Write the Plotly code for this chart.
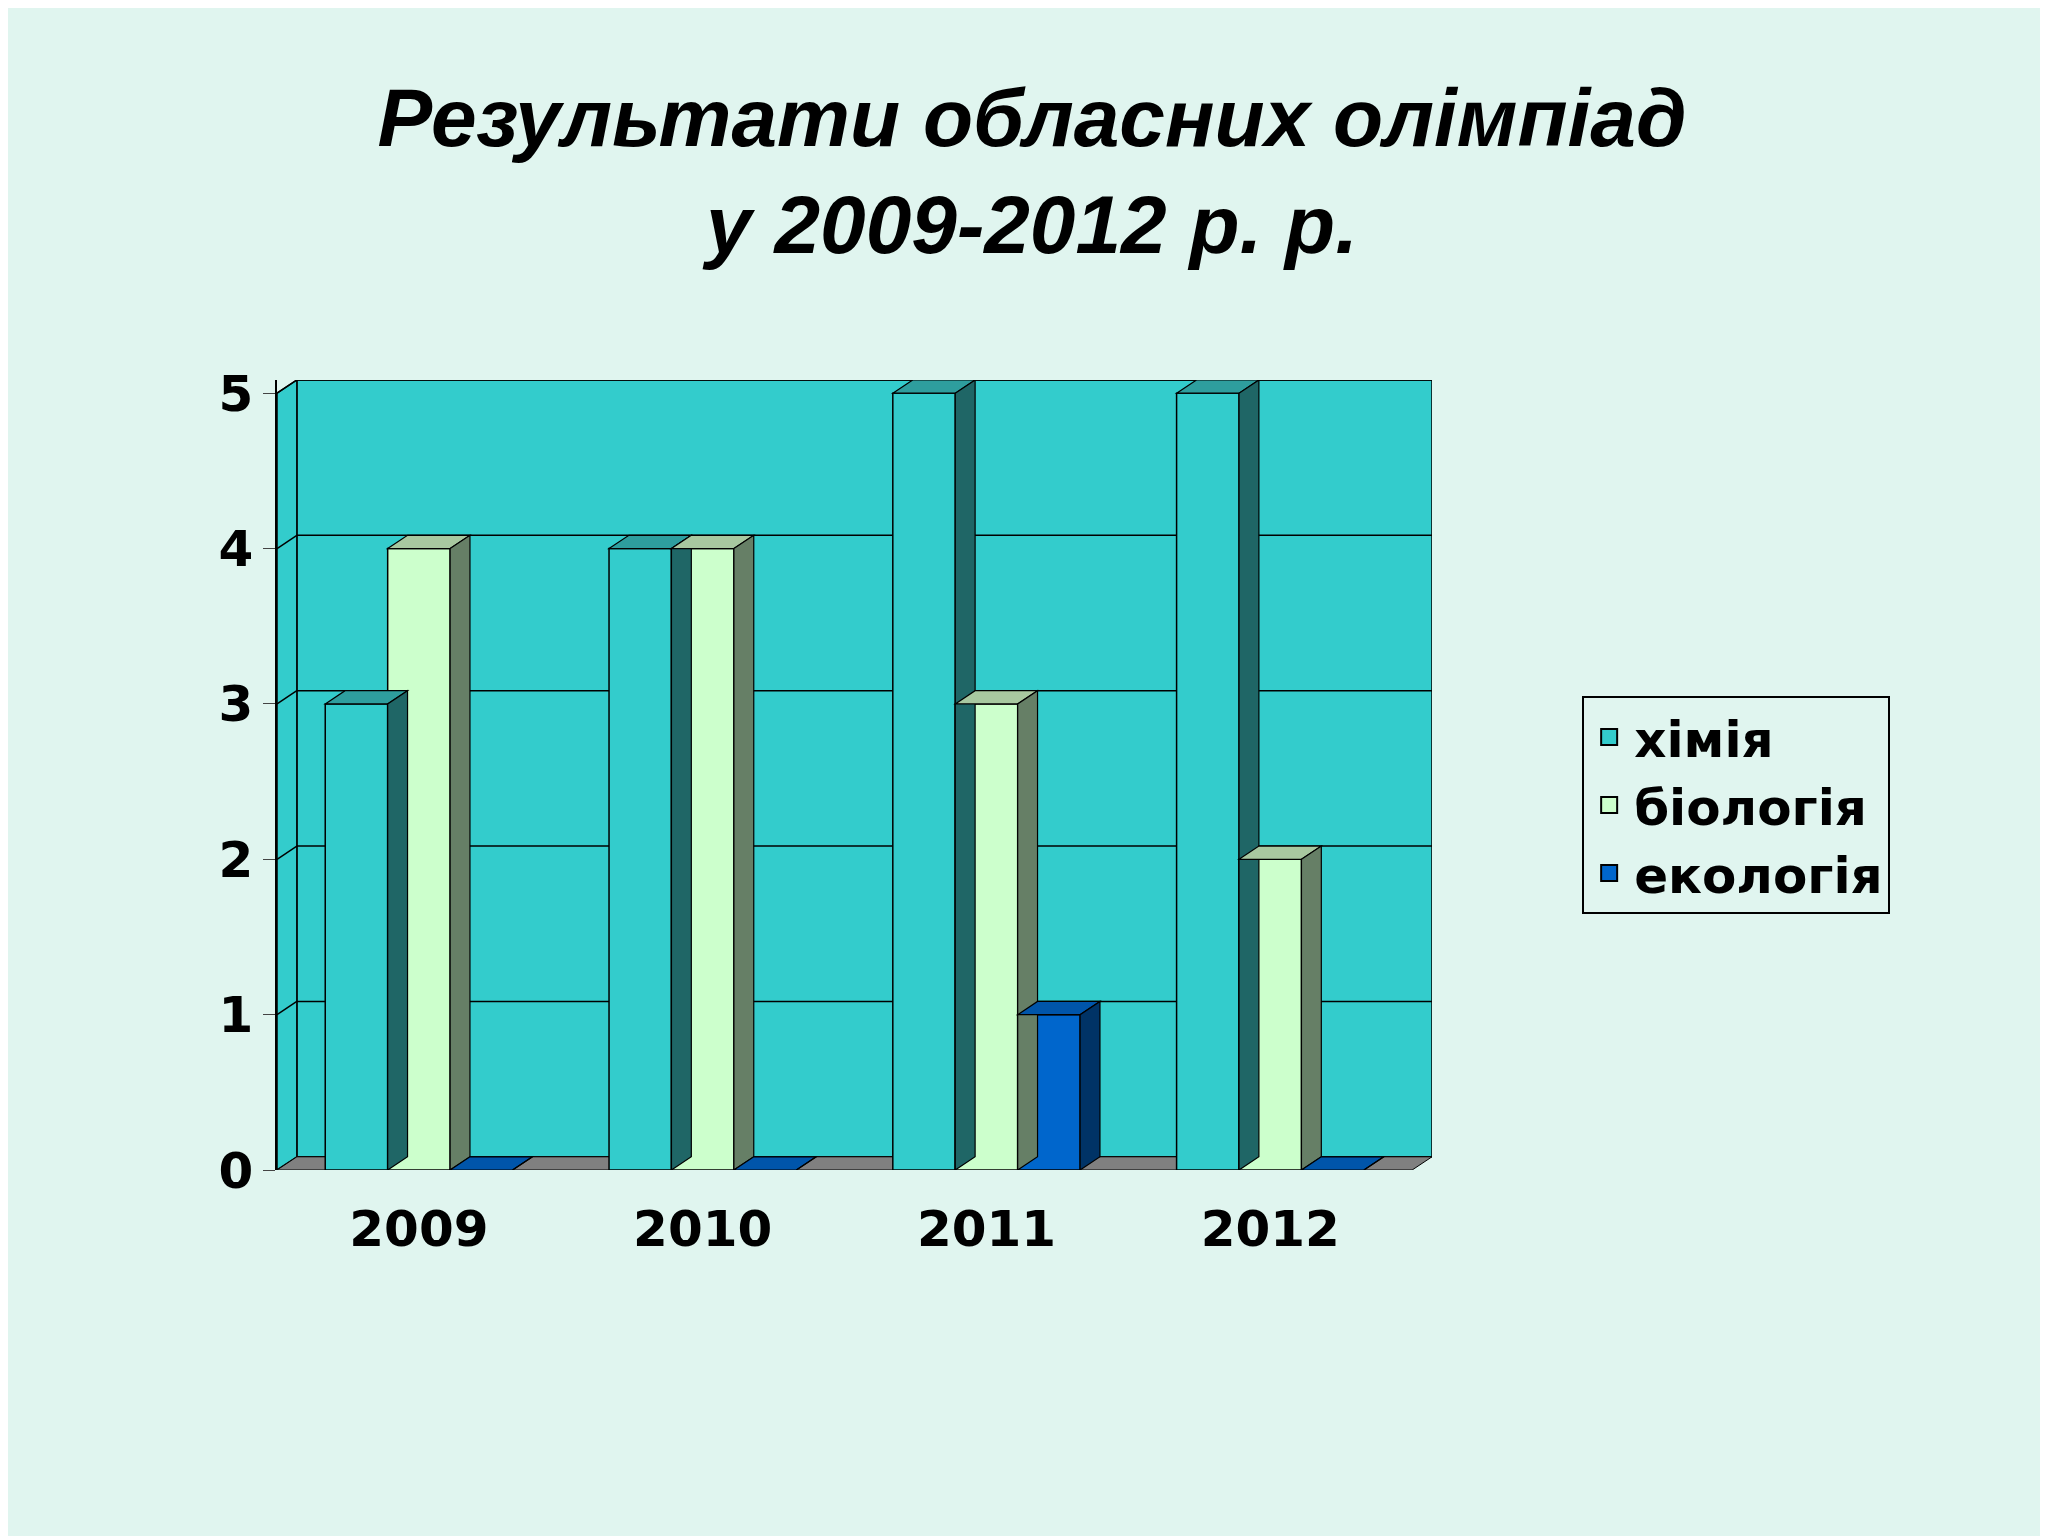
import plotly.graph_objects as go

years = ["2009", "2010", "2011", "2012"]
himiya = [3, 4, 5, 5]
biologiya = [4, 4, 3, 2]
ekologiya = [0, 0, 1, 0]

series = [
    ("хімія", himiya, "#33CCCC", "#2E9E9E", "#1F6666", -0.22),
    ("біологія", biologiya, "#CCFFCC", "#A8C8A0", "#667F66", 0.0),
    ("екологія", ekologiya, "#0066CC", "#0055AA", "#003366", 0.22),
]
bw = 0.22
dx, dy = 0.07, 0.085
xpos = list(range(len(years)))

fig = go.Figure()
shapes = []

# back wall, side wall, floor
shapes.append(dict(type="rect", xref="x", yref="y", x0=-0.5 + dx, x1=3.5 + dx, y0=dy, y1=5 + dy,
                   fillcolor="#33CCCC", line=dict(color="black", width=1.5), layer="below"))
shapes.append(dict(type="path", xref="x", yref="y",
                   path=f"M -0.5,0 L {-0.5+dx},{dy} L {-0.5+dx},{5+dy} L -0.5,5 Z",
                   fillcolor="#33CCCC", line=dict(color="black", width=1.5), layer="below"))
shapes.append(dict(type="path", xref="x", yref="y",
                   path=f"M -0.5,0 L {-0.5+dx},{dy} L {3.5+dx},{dy} L 3.5,0 Z",
                   fillcolor="#808080", line=dict(color="black", width=1), layer="below"))
for v in range(1, 6):
    shapes.append(dict(type="line", xref="x", yref="y", x0=-0.5 + dx, x1=3.5 + dx, y0=v + dy, y1=v + dy,
                       line=dict(color="black", width=1.5), layer="below"))
    shapes.append(dict(type="line", xref="x", yref="y", x0=-0.5, x1=-0.5 + dx, y0=v, y1=v + dy,
                       line=dict(color="black", width=1.5), layer="below"))

for name, vals, col, topc, sidec, off in series:
    fig.add_trace(go.Bar(x=[x + off for x in xpos], y=vals, width=bw, name=name, showlegend=False,
                         marker=dict(color=col, line=dict(color="black", width=1.5))))
    fig.add_trace(go.Scatter(x=[None], y=[None], mode="markers", name=name,
                             marker=dict(symbol="square", size=34, color=col,
                                         line=dict(color="black", width=2))))
    for x, v in zip(xpos, vals):
        l, r = x + off - bw / 2, x + off + bw / 2
        shapes.append(dict(type="path", xref="x", yref="y",
                           path=f"M {l},{v} L {l+dx},{v+dy} L {r+dx},{v+dy} L {r},{v} Z",
                           fillcolor=topc, line=dict(color="black", width=1.2)))
        shapes.append(dict(type="path", xref="x", yref="y",
                           path=f"M {r},0 L {r+dx},{dy} L {r+dx},{v+dy} L {r},{v} Z",
                           fillcolor=sidec, line=dict(color="black", width=1.2)))

bold = dict(family="DejaVu Sans", size=50, color="black", weight="bold")
fig.update_layout(
    width=2048, height=1536,
    paper_bgcolor="#E0F5EF", plot_bgcolor="rgba(0,0,0,0)",
    shapes=shapes,
    barmode="overlay",
    title=dict(text="<b><i>Результати обласних олімпіад<br>у 2009-2012 р. р.</i></b>",
               x=0.5, y=0.91, xanchor="center", yanchor="middle",
               font=dict(family="Liberation Sans", size=82, color="black")),
    margin=dict(l=269, r=2048 - 1424, t=372, b=1536 - 1162),
    xaxis=dict(range=[-0.5, 3.5 + dx], tickvals=xpos, ticktext=years, showgrid=False,
               zeroline=False, ticks="", tickfont=bold, ticklabelstandoff=25),
    yaxis=dict(range=[0, 5 + dy], tickvals=[0, 1, 2, 3, 4, 5], showgrid=False, zeroline=False,
               ticks="outside", ticklen=12, showline=True, linecolor="black", linewidth=1.5,
               tickfont=bold),
    legend=dict(x=1.13, y=0.6, xanchor="left", yanchor="top", bgcolor="rgba(0,0,0,0)",
                bordercolor="black", borderwidth=2, itemwidth=40,
                font=dict(family="DejaVu Sans", size=50, color="black", weight="bold")),
    font=dict(family="Liberation Sans", color="black"),
)

fig.write_html("out.html")
